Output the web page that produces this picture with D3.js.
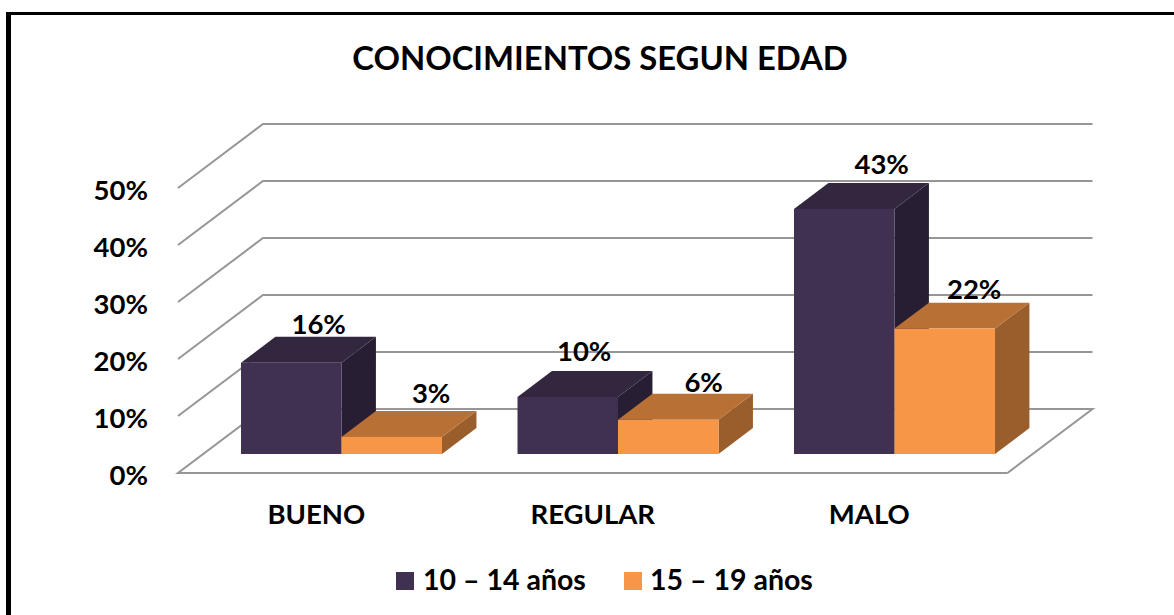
<!DOCTYPE html>
<html>
<head>
<meta charset="utf-8">
<style>
  html, body { margin: 0; padding: 0; background: #fff; }
  svg { display: block; }
  text { font-family: Lato, "Open Sans", sans-serif; font-weight: 700; fill: #000; }
</style>
<script src="https://cdnjs.cloudflare.com/ajax/libs/d3/7.8.5/d3.min.js"></script>
</head>
<body>
<svg id="chart" width="1174" height="615"></svg>
<script>
var categories = ['BUENO', 'REGULAR', 'MALO'];
var seriesNames = ['10 – 14 años', '15 – 19 años'];
var joven = [16, 10, 43];
var adolescente = [3, 6, 22];
var tickValues = [0, 10, 20, 30, 40, 50];

var seriesValues = [joven, adolescente];
var front = ['#403152', '#f79646'];
var top_ = ['#33273f', '#b97035'];
var side = ['#271e33', '#9a5e2c'];
// hand placed data labels, same as the original chart
var labelNudge = [
  [[0, 2], [-11, -5], [10, -4]],
  [[12, -3], [8, 3], [2, 1]]
];

var svg = d3.select('#chart');

// frame: only top and left show, the rest is cropped
svg.append('line').attr('x1', 6).attr('x2', 1174).attr('y1', 13.5).attr('y2', 13.5)
  .attr('stroke', '#000').attr('stroke-width', 3);
svg.append('line').attr('x1', 8.5).attr('x2', 8.5).attr('y1', 12).attr('y2', 615)
  .attr('stroke', '#000').attr('stroke-width', 5);

// title
svg.append('text').attr('x', 600).attr('y', 70).attr('text-anchor', 'middle')
  .style('font-size', '32.8px').text('CONOCIMIENTOS SEGUN EDAD');

// 3d floor, front edge and depth offset
var x0 = 178, x1 = 1007.5, depthX = 85, depthY = -64;
var y = d3.scaleLinear().domain([0, 50]).range([473, 188]);
var x = d3.scaleBand().domain(categories).range([x0, x1]);
var barW = 100.5;
var zBase = 0.297, zDepth = 0.405; // bar position inside the floor depth

var grid = svg.append('g');
tickValues.forEach(function (t) {
  var pts = t === 0
    ? [[x1, y(t)], [x0, y(t)], [x0 + depthX, y(t) + depthY], [x1 + depthX, y(t) + depthY], [x1, y(t)]]
    : [[x0, y(t)], [x0 + depthX, y(t) + depthY], [x1 + depthX, y(t) + depthY]];
  grid.append('polyline')
    .attr('points', pts.join(' '))
    .attr('fill', 'none').attr('stroke', '#969696').attr('stroke-width', 2);
});

// y axis labels
var yAxis = d3.axisLeft(y).tickValues(tickValues).tickSize(0).tickPadding(0)
  .tickFormat(function (d) { return d + '%'; });
var yG = svg.append('g').attr('transform', 'translate(148,2)').call(yAxis);
yG.select('.domain').remove();
yG.selectAll('text').style('font-size', '27.5px').attr('dy', '0.35em');

// x axis labels
var xAxis = d3.axisBottom(x).tickSize(0).tickPadding(0);
var xG = svg.append('g').attr('transform', 'translate(0,505)').call(xAxis);
xG.select('.domain').remove();
xG.selectAll('text').style('font-size', '27.5px').attr('dy', '0.7em');

// bars, back to front and left to right
var bars = svg.append('g');
var labels = svg.append('g');
var baseY = y(0) + zBase * depthY;
var dx = zDepth * depthX, dy = zDepth * depthY;

categories.forEach(function (cat, ci) {
  var cx = x(cat) + x.bandwidth() / 2 + zBase * depthX;
  seriesValues.forEach(function (vals, si) {
    var v = vals[ci];
    var left = cx - barW + si * barW;
    var right = left + barW;
    var topY = baseY - (y(0) - y(v));
    var b = bars.append('g');
    b.append('polygon')
      .attr('points', [[right, baseY], [right + dx, baseY + dy], [right + dx, topY + dy], [right, topY]].join(' '))
      .attr('fill', side[si]);
    b.append('polygon')
      .attr('points', [[left, topY], [left + dx, topY + dy], [right + dx, topY + dy], [right, topY]].join(' '))
      .attr('fill', top_[si]);
    b.append('rect')
      .attr('x', left).attr('y', topY).attr('width', barW).attr('height', baseY - topY)
      .attr('fill', front[si]);
    labels.append('text')
      .attr('x', (left + right) / 2 + dx - 7 + labelNudge[si][ci][0])
      .attr('y', topY + dy - 5 + labelNudge[si][ci][1])
      .attr('text-anchor', 'middle')
      .style('font-size', '27.5px')
      .text(v + '%');
  });
});

// legend
var legendItems = [{ x: 396, tx: 423 }, { x: 624, tx: 650 }];
legendItems.forEach(function (it, i) {
  svg.append('rect').attr('x', it.x).attr('y', 572).attr('width', 18).attr('height', 18).attr('fill', front[i]);
  svg.append('text').attr('x', it.tx).attr('y', 590).style('font-size', '28.5px').text(seriesNames[i]);
});
</script>
</body>
</html>
